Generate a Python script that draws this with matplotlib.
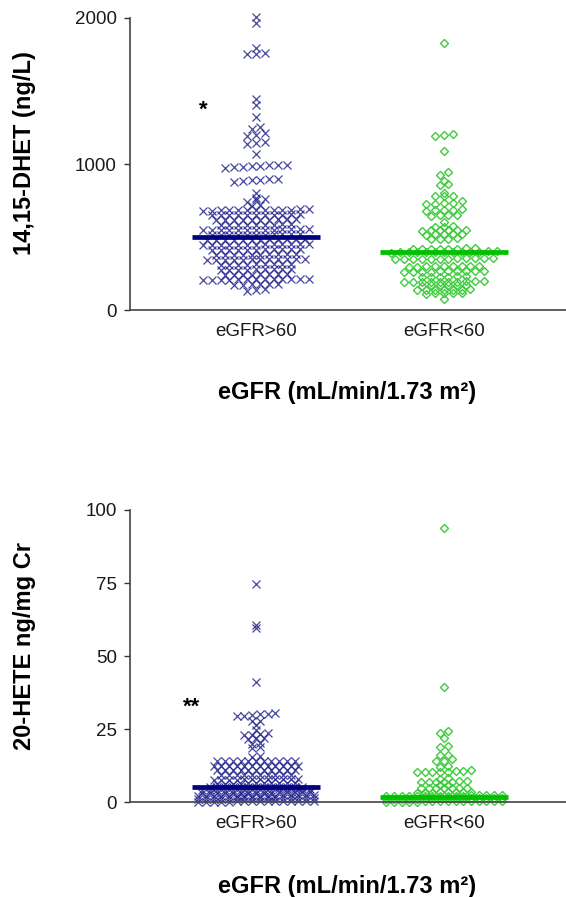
import numpy as np
import matplotlib
matplotlib.use("Agg")
import matplotlib.pyplot as plt

plt.rcParams['font.family'] = ['Liberation Sans', 'DejaVu Sans']

groups = ["eGFR>60", "eGFR<60"]

# 14,15-DHET (ng/L), eGFR>60
dhet_hi = [2005, 1968, 1796, 1760, 1752, 1750, 1443, 1404, 1320, 1252, 1240,
           1210, 1200, 1195, 1150, 1145, 1140, 1070,
           995, 990, 985, 980, 978, 975, 992, 988,
           898, 892, 888, 885, 880, 895,
           800, 768, 760, 752, 740, 722, 715,
           684, 680, 688, 686, 682, 690, 683, 687, 684, 681, 689, 685, 683,
           650, 652, 654, 648, 651, 655, 649, 653, 650, 652, 656,
           618, 616, 620, 614, 619, 621, 617, 615, 622, 618,
           584, 582, 586, 580, 585, 583, 587, 581, 584,
           550, 548, 552, 546, 551, 554, 547, 549, 553, 546, 550, 552, 548,
           516, 514, 518, 512, 517, 519, 515, 513, 520, 516, 518,
           482, 480, 484, 478, 483, 485, 479, 481, 486, 482, 480, 484,
           448, 446, 450, 444, 449, 451, 447, 445, 452, 448, 446, 450, 449,
           414, 412, 416, 410, 415, 417, 413, 411, 418, 414, 416,
           380, 378, 382, 376, 381, 383, 379, 377, 384, 380,
           346, 344, 348, 342, 347, 349, 345, 343, 350, 346, 348, 344,
           312, 310, 314, 308, 313, 315, 311, 309, 316,
           278, 276, 280, 274, 279, 281, 277, 275, 282,
           244, 242, 246, 240, 245, 247, 243, 241,
           210, 208, 212, 206, 211, 213, 209, 207, 214, 210, 208, 212, 211,
           176, 174, 178, 172, 177, 179,
           142, 140, 128]

# 14,15-DHET (ng/L), eGFR<60
dhet_lo = [1826, 1200, 1195, 1205, 1090, 943, 925, 884, 860, 858,
           803, 781, 780, 778, 747, 730, 728, 732, 726,
           690, 686, 684, 680, 682, 652, 648, 650, 646,
           605, 571, 570, 572,
           548, 546, 550, 544, 549, 547,
           520, 518, 522, 516, 521,
           488, 485, 490, 484,
           420, 418, 422, 416, 419, 421, 417, 423,
           398, 396, 400, 394, 399, 397, 401, 395, 398, 396, 400, 393, 402,
           352, 350, 354, 348, 353, 355, 351, 349, 356, 352, 350, 354,
           300, 298, 302, 296, 301, 303, 299, 297, 304,
           264, 262, 266, 260, 265, 267, 263, 261, 268, 264,
           228, 226, 230, 224, 229, 231,
           194, 192, 196, 190, 195, 197, 193, 191, 198, 194,
           170, 168, 172, 166, 171, 173,
           138, 136, 140, 135, 139, 141, 137,
           116, 114, 118, 112, 117,
           73]

# 20-HETE ng/mg Cr, eGFR>60
hete_hi = [74.5, 60.5, 59.5, 41.0,
           30.4, 30.2, 29.9, 29.6, 29.5, 30.3, 27.9, 27.6, 26.2, 24.8,
           23.6, 23.3, 23.0, 22.8, 22.0, 21.8, 21.6, 20.2, 20.0,
           18.8, 18.5, 15.6, 15.4,
           14.1, 14.0, 14.2, 13.9, 14.1, 14.2, 14.0, 13.9, 14.1, 14.0, 14.2,
           12.4, 12.3, 12.5, 12.3, 12.4, 12.2, 12.5, 12.4, 12.3, 12.4, 12.5, 12.3,
           11.0, 10.9, 11.1, 11.0, 10.9, 11.1, 11.0, 11.1, 10.9, 11.0, 11.1,
           9.3, 9.2, 9.4, 9.3, 9.2, 9.4, 9.3, 9.2, 9.4, 9.3,
           7.8, 7.7, 7.9, 7.8, 7.7, 7.9, 7.8, 7.7, 7.9, 7.8, 7.7, 7.9,
           6.4, 6.3, 6.5, 6.4, 6.3, 6.5, 6.4, 6.3, 6.5, 6.4, 6.3,
           5.2, 5.1, 5.3, 5.2, 5.1, 5.3, 5.2, 5.1, 5.3, 5.2, 5.1, 5.3, 5.2,
           4.2, 4.1, 4.3, 4.2, 4.1, 4.3, 4.2, 4.1, 4.3, 4.2, 4.1, 4.3, 4.2, 4.1, 4.3,
           3.2, 3.1, 3.3, 3.2, 3.1, 3.3, 3.2, 3.1, 3.3, 3.2, 3.1, 3.3, 3.2, 3.1, 3.3,
           2.2, 2.1, 2.3, 2.2, 2.1, 2.3, 2.2, 2.1, 2.3, 2.2, 2.1, 2.3, 2.2, 2.1, 2.3, 2.2,
           1.2, 1.1, 1.3, 1.2, 1.1, 1.3, 1.2, 1.1, 1.3, 1.2, 1.1, 1.3, 1.2, 1.1, 1.3, 1.2,
           0.2, 0.1, 0.3, 0.2, 0.1, 0.3, 0.2, 0.1, 0.3, 0.2, 0.1, 0.3, 0.2, 0.1, 0.3, 0.2]

# 20-HETE ng/mg Cr, eGFR<60
hete_lo = [94.0, 39.5, 24.3, 23.6, 22.0, 19.2, 19.0, 16.2, 16.0,
           14.7, 14.1, 13.9, 12.2, 11.9, 11.0,
           10.4, 10.3, 10.5, 10.4, 10.3, 10.5, 10.4,
           8.1, 8.0, 7.0, 6.9, 7.1, 7.0, 6.9, 7.1, 7.0,
           5.9, 5.8, 4.8, 4.7, 4.9, 4.8, 4.7, 4.9, 4.8,
           3.3, 3.2, 3.4, 3.3, 3.2, 3.4, 3.3, 3.2,
           2.2, 2.1, 2.3, 2.2, 2.1, 2.3, 2.2, 2.1, 2.3, 2.2, 2.1, 2.3, 2.2, 2.1, 2.3, 2.2,
           1.2, 1.1, 1.3, 1.2, 1.1, 1.3, 1.2, 1.1, 1.3, 1.2, 1.1, 1.3, 1.2, 1.1, 1.3, 1.2,
           0.2, 0.1, 0.3, 0.2, 0.1, 0.3, 0.2, 0.1, 0.3, 0.2, 0.1, 0.3, 0.2, 0.1, 0.3, 0.2]

# medians
dhet_median = [500, 400]
hete_median = [5.2, 1.8]

dhet_ticks = [0, 1000, 2000]
hete_ticks = [0, 25, 50, 75, 100]

navy = '#26268f'
green = '#3ccc3c'


def scatter_x(values, center, step, bin_h):
    # lay points side by side in rows, like a column scatter plot
    values = np.asarray(values, dtype=float)
    order = np.argsort(values)
    xs = np.zeros(len(values))
    rows, current, start = [], [], None
    for idx in order:
        v = values[idx]
        if start is None or v - start > bin_h:
            if current:
                rows.append(current)
            current, start = [idx], v
        else:
            current.append(idx)
    rows.append(current)
    for row in rows:
        n = len(row)
        for k, idx in enumerate(row):
            xs[idx] = center + (k - (n - 1) / 2) * step
    return xs


def draw_panel(ax, hi, lo, medians, ticks, ylabel_y, xlabel_y, ylabel, star, star_xy, step, bin_h):
    x_hi = scatter_x(hi, 1, step, bin_h)
    x_lo = scatter_x(lo, 2, step, bin_h)
    ax.plot(x_hi, hi, 'x', color=navy, markersize=5.5, markeredgewidth=0.9,
            alpha=0.85, clip_on=False, zorder=2)
    ax.plot(x_lo, lo, 'D', markerfacecolor='none', markeredgecolor=green,
            markersize=4, markeredgewidth=1.0, clip_on=False, zorder=2)
    ax.hlines(medians[0], 1 - 0.34, 1 + 0.34, color='#000080', linewidth=3.4, zorder=3)
    ax.hlines(medians[1], 2 - 0.34, 2 + 0.34, color='#00c000', linewidth=3.4, zorder=3)

    ax.set_xlim(0.33, 2.649)
    ax.set_ylim(0, ticks[-1])
    ax.set_yticks(ticks)
    ax.set_xticks([1, 2])
    ax.set_xticklabels(groups)
    ax.tick_params(axis='y', direction='out', length=4.5, width=1.0, pad=5,
                   labelsize=13.5, labelcolor='#1a1a1a', color='#333333')
    ax.tick_params(axis='x', length=0, pad=9, labelsize=13.5, labelcolor='#1a1a1a')
    for s in ['top', 'right']:
        ax.spines[s].set_visible(False)
    for s in ['left', 'bottom']:
        ax.spines[s].set_color('#444444')
        ax.spines[s].set_linewidth(1.2)
    ax.text(star_xy[0], star_xy[1], star, fontsize=16, fontweight='bold',
            ha='center', va='center', color='black')

    fig.text(25 / 566, ylabel_y, ylabel, rotation=90, fontsize=17,
             fontweight='bold', ha='center', va='center')
    fig.text(347 / 566, xlabel_y, 'eGFR (mL/min/1.73 m²)', fontsize=17,
             fontweight='bold', ha='center', va='center')


fig = plt.figure(figsize=(5.66, 8.97), dpi=100)
ax1 = fig.add_axes([130 / 566, 1 - 310 / 897, 436 / 566, 292 / 897])
ax2 = fig.add_axes([130 / 566, 1 - 802 / 897, 436 / 566, 292 / 897])

draw_panel(ax1, dhet_hi, dhet_lo, dhet_median, dhet_ticks,
           1 - 153 / 897, 1 - 393 / 897, '14,15-DHET (ng/L)', '*', (0.718, 1370),
           step=0.047, bin_h=22)
draw_panel(ax2, hete_hi, hete_lo, hete_median, hete_ticks,
           1 - 646 / 897, 1 - 886 / 897, '20-HETE ng/mg Cr', '**', (0.66, 32.5),
           step=0.041, bin_h=0.9)

fig.savefig('out.png', dpi=100)
